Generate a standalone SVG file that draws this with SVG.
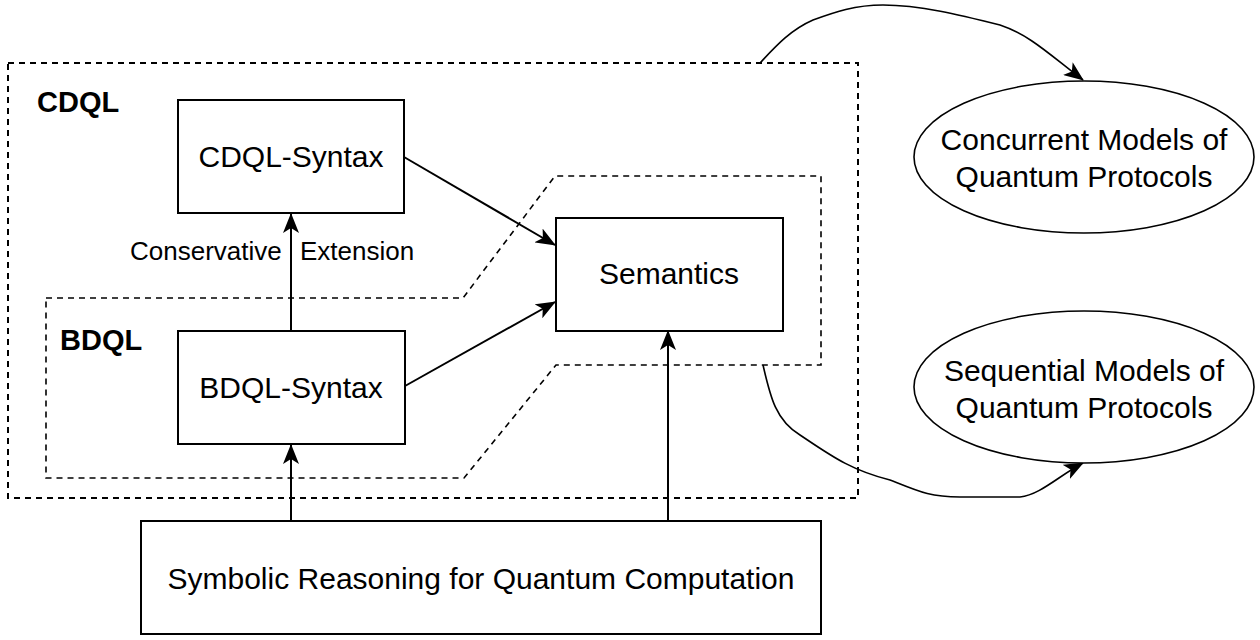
<svg xmlns="http://www.w3.org/2000/svg" width="1260" height="640" viewBox="0 0 1260 640">
<style>
.box{fill:#fff;stroke:#000;stroke-width:2}
.dash{fill:none;stroke:#000;stroke-width:2;stroke-dasharray:6 5}
.t{font-family:"Liberation Sans",Arial,sans-serif;font-size:30px;fill:#000;text-anchor:middle}
.b{font-family:"Liberation Sans",Arial,sans-serif;font-size:29px;font-weight:bold;fill:#000}
.lbl{font-family:"Liberation Sans",Arial,sans-serif;font-size:26px;fill:#000}
.c{fill:none;stroke:#000;stroke-width:2}
</style>
<defs>
<marker id="ah" viewBox="0 0 20 16" refX="19" refY="8" markerWidth="20" markerHeight="16" markerUnits="userSpaceOnUse" orient="auto">
<path d="M0,0 L20,8 L0,16 L5,8 Z" fill="#000"/>
</marker>
</defs>
<g id="containers">
<rect id="cdql-group" class="dash" x="8" y="63" width="850" height="435"/>
<path id="bdql-group" class="dash" style="stroke-width:1.6" d="M46,298 L463,298 L555,176 L821,176 L821,365 L556,365 L464,478 L46,478 Z"/>
</g>
<g id="labels">
<text class="b" x="37" y="112">CDQL</text>
<text class="b" x="60" y="350">BDQL</text>
<text class="lbl" x="130" y="260">Conservative</text>
<text class="lbl" x="300" y="260">Extension</text>
</g>
<g id="connectors">
<line class="c" x1="291" y1="331" x2="291" y2="214" marker-end="url(#ah)"/>
<line class="c" x1="404" y1="157" x2="555" y2="245" marker-end="url(#ah)"/>
<line class="c" x1="405" y1="386" x2="555" y2="302" marker-end="url(#ah)"/>
<line class="c" x1="291" y1="521" x2="291" y2="445" marker-end="url(#ah)"/>
<line class="c" x1="668" y1="521" x2="668" y2="331" marker-end="url(#ah)"/>
<path class="c" style="stroke-width:1.6" d="M760,63 C775,47 790,30 813,20 C835,12 855,5 883,5 C920,5 960,15 1000,25 C1030,35 1050,55 1083,80" marker-end="url(#ah)"/>
<path class="c" style="stroke-width:1.6" d="M763,365 C770,395 775,420 800,435 C830,455 850,470 890,480 C920,492 930,497 960,497 L1020,497 C1040,495 1060,475 1083,463" marker-end="url(#ah)"/>
</g>
<g id="cdql-syntax">
<rect class="box" x="178" y="100" width="226" height="113"/>
<text class="t" x="291" y="167">CDQL-Syntax</text>
</g>
<g id="bdql-syntax">
<rect class="box" x="178" y="331" width="227" height="113"/>
<text class="t" x="291" y="398">BDQL-Syntax</text>
</g>
<g id="semantics">
<rect class="box" x="556" y="218" width="227" height="113"/>
<text class="t" x="669" y="284">Semantics</text>
</g>
<g id="symbolic">
<rect class="box" x="141" y="521" width="680" height="113"/>
<text class="t" x="481" y="589">Symbolic Reasoning for Quantum Computation</text>
</g>
<g id="concurrent">
<ellipse class="box" style="stroke-width:1.6" cx="1084" cy="157" rx="170" ry="76"/>
<text class="t" x="1084" y="150">Concurrent Models of</text>
<text class="t" x="1084" y="187">Quantum Protocols</text>
</g>
<g id="sequential">
<ellipse class="box" style="stroke-width:1.6" cx="1084" cy="387" rx="170" ry="76"/>
<text class="t" x="1084" y="381">Sequential Models of</text>
<text class="t" x="1084" y="418">Quantum Protocols</text>
</g>
</svg>
